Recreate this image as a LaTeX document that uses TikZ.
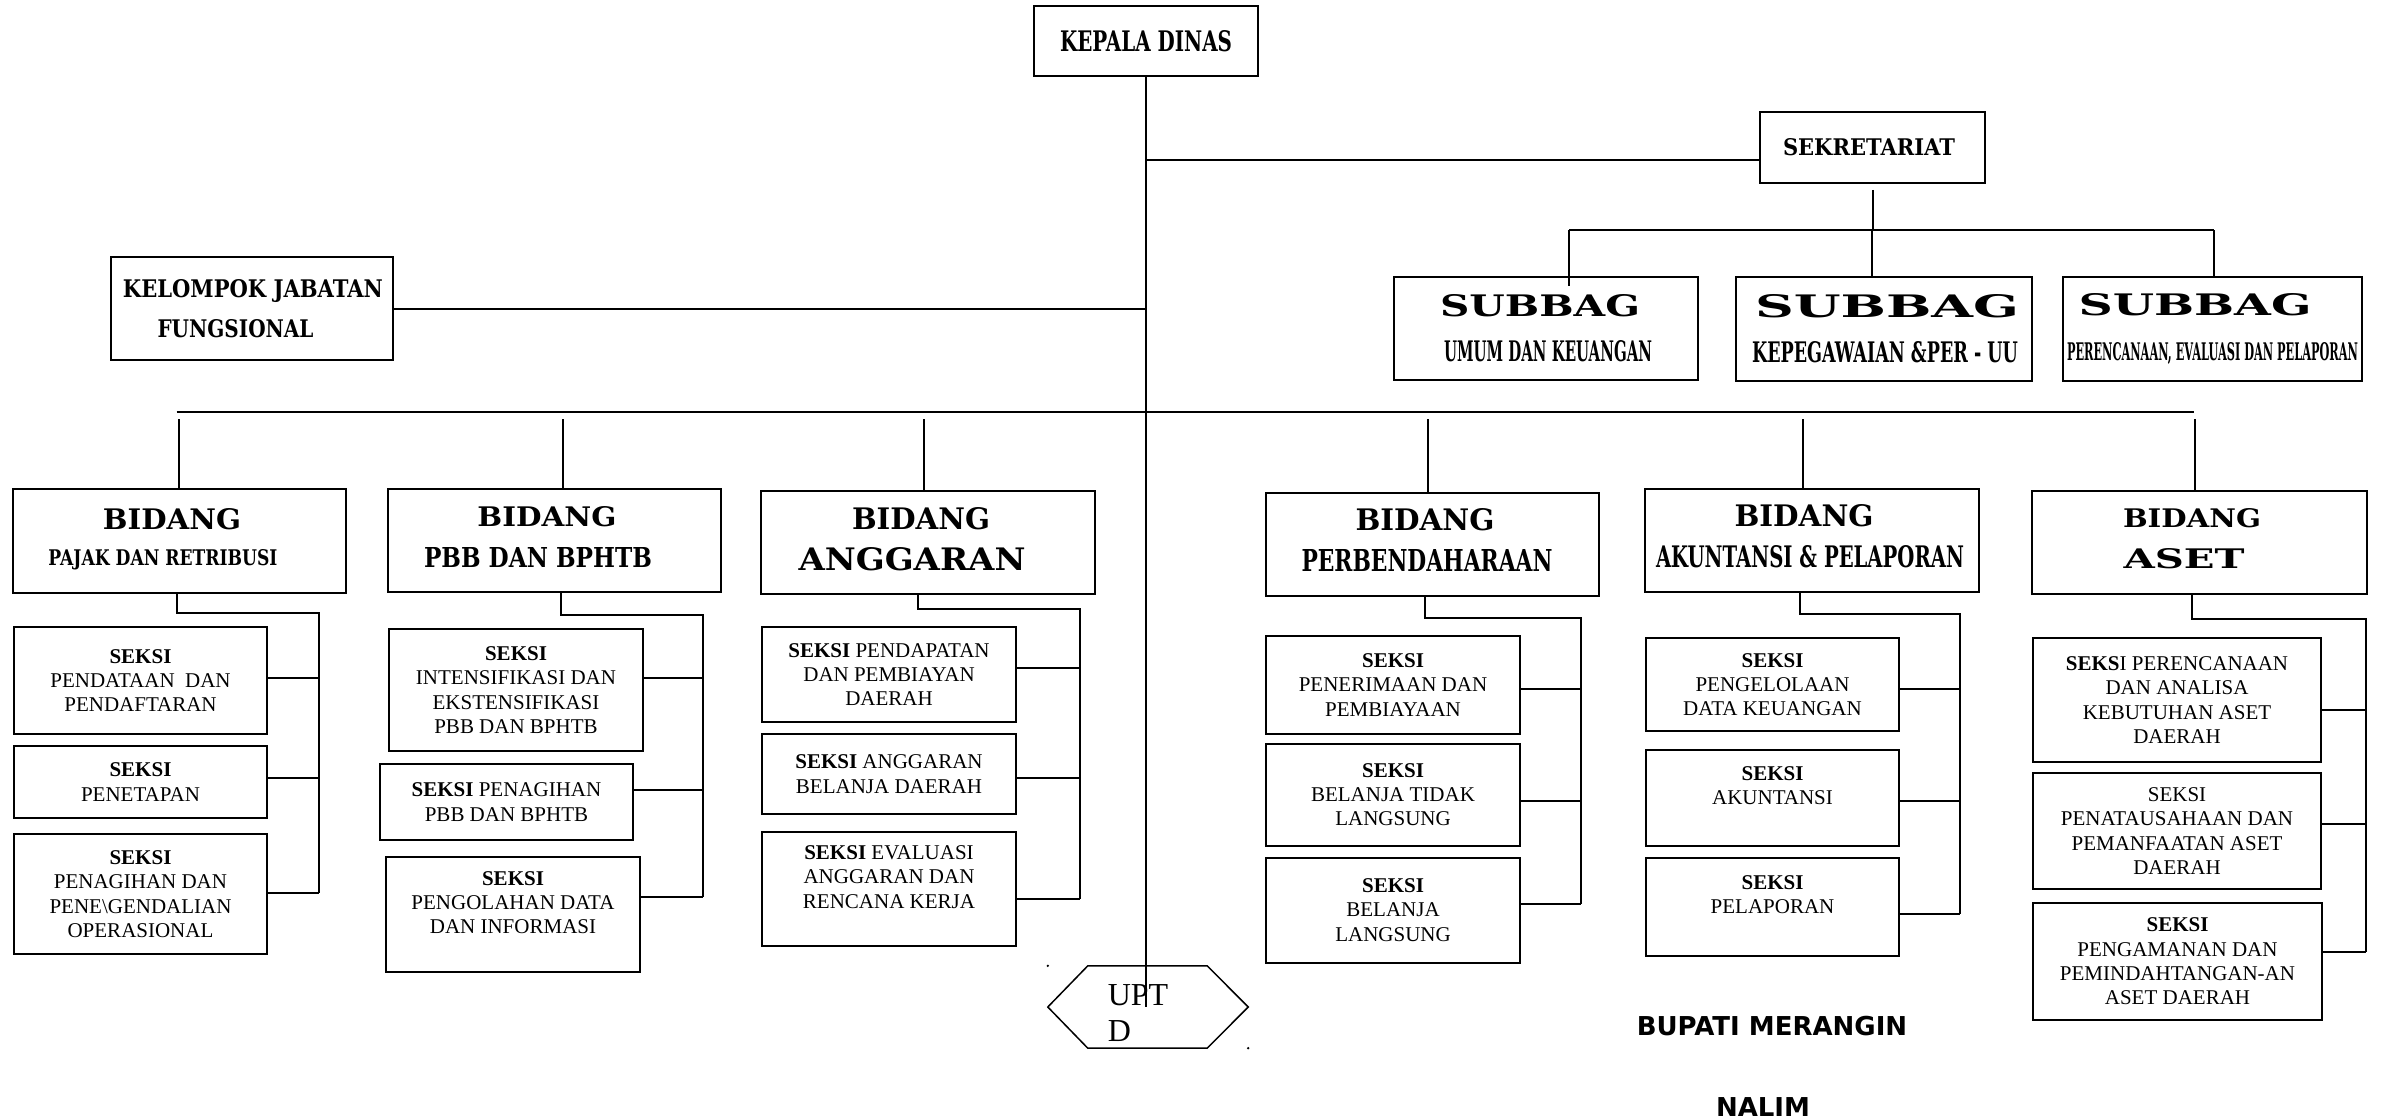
\documentclass[tikz,border=0pt]{standalone}
\usepackage{fontspec}
\setmainfont{Liberation Serif}
\newfontfamily\hdfont{DejaVu Serif}
\newfontfamily\signfont{DejaVu Sans}
\usepackage{graphicx}
\usepackage{tikz}
\usetikzlibrary{calc}
% heading line: shift, width, cap height, text
\newcommand{\hd}[4]{\makebox[#2pt]{\hspace{#1pt}\hspace{#1pt}\resizebox{#2pt}{#3pt}{#4}}}
\tikzset{
  unit/.style={draw=black, line width=2pt, inner sep=0pt, align=center},
  head/.style={unit, font=\hdfont\bfseries\fontsize{20}{40}\selectfont},
  bidang/.style={unit, font=\hdfont\bfseries\fontsize{20}{41}\selectfont, text depth=8pt},
  subbag/.style={unit, font=\hdfont\bfseries\fontsize{20}{45}\selectfont},
  seksi/.style={unit, font=\fontsize{21}{24.3}\selectfont},
  link/.style={line width=2pt},
  bus/.style={line width=2.5pt},
  hexa/.style={minimum width=200pt, minimum height=82pt, inner sep=0pt},
  upttext/.style={font=\fontsize{32}{36}\selectfont, align=left, inner sep=0pt},
  sign/.style={font=\signfont\bfseries\fontsize{26}{30}\selectfont, inner sep=0pt},
}

\begin{document}
\begin{tikzpicture}[x=1pt, y=-1pt]
\useasboundingbox[fill=white] (0,0) rectangle (2381,1118);

%% =====================================================================
%% Top: kepala dinas, sekretariat, jabatan fungsional
%% =====================================================================
\node[head, minimum width=224pt, minimum height=70pt] (kadis) at (1146,41) {\hd{0}{172}{21}{KEPALA DINAS}};
\node[head, minimum width=225pt, minimum height=71pt] (sekre) at (1872.5,147.5) {\hd{-3.5}{172}{17}{SEKRETARIAT}};
\node[head, minimum width=282pt, minimum height=103pt] (kjf) at (252,308.5) {\hd{1}{260}{18}{KELOMPOK JABATAN}\\\hd{-16.5}{156}{18}{FUNGSIONAL}};

\node[subbag, minimum width=304pt, minimum height=103pt] (sub1) at (1546,328.5) {\hd{-6}{200}{22}{SUBBAG}\\\hd{2}{208}{21}{UMUM DAN KEUANGAN}};
\node[subbag, minimum width=296pt, minimum height=104pt] (sub2) at (1884,329) {\hd{3}{264}{23}{SUBBAG}\\\hd{1}{266}{21}{KEPEGAWAIAN \&PER - UU}};
\node[subbag, minimum width=299pt, minimum height=104pt] (sub3) at (2212.5,329) {\hd{-17.5}{233}{22}{SUBBAG}\\\hd{0}{291}{18}{PERENCANAAN, EVALUASI DAN PELAPORAN}};

%% =====================================================================
%% Bidang row
%% =====================================================================
\node[bidang, minimum width=333pt, minimum height=104pt] (pjk) at (179.5,541) {\hd{-7.5}{138}{21}{BIDANG}\\[-4.5pt]\hd{-16.5}{229}{16}{PAJAK DAN RETRIBUSI}};
\node[bidang, minimum width=333pt, minimum height=103pt] (pbb) at (554.5,540.5) {\hd{-7.5}{139}{20}{BIDANG}\\\hd{-16.5}{228}{20}{PBB DAN BPHTB}};
\node[bidang, minimum width=334pt, minimum height=103pt] (ang) at (928,542.5) {\hd{-7}{138}{22}{BIDANG}\\\hd{-16}{227}{23}{ANGGARAN}};
\node[bidang, minimum width=333pt, minimum height=103pt] (bnd) at (1432.5,544) {\hd{-7.5}{139}{22}{BIDANG}\\\hd{-5.5}{251}{22}{PERBENDAHARAAN}};
\node[bidang, minimum width=334pt, minimum height=103pt] (akt) at (1812,540) {\hd{-8}{139}{22}{BIDANG}\\\hd{-2}{308}{22}{AKUNTANSI \& PELAPORAN}};
\node[bidang, minimum width=335pt, minimum height=103pt] (ast) at (2199.5,542.5) {\hd{-7.5}{138}{19}{BIDANG}\\\hd{-15.5}{121}{20}{ASET}};

%% =====================================================================
%% Seksi boxes
%% =====================================================================
\node[seksi, minimum width=253pt, minimum height=107pt] (pjk1) at (140.5,680.5) {\textbf{SEKSI}\\PENDATAAN~~DAN\\PENDAFTARAN};
\node[seksi, minimum width=253pt, minimum height=72pt] (pjk2) at (140.5,782) {\textbf{SEKSI}\\PENETAPAN};
\node[seksi, minimum width=253pt, minimum height=120pt] (pjk3) at (140.5,894) {\textbf{SEKSI}\\PENAGIHAN DAN\\PENE\textbackslash GENDALIAN\\OPERASIONAL};

\node[seksi, minimum width=254pt, minimum height=122pt] (pbb1) at (516,690) {\textbf{SEKSI}\\INTENSIFIKASI DAN\\EKSTENSIFIKASI\\PBB DAN BPHTB};
\node[seksi, minimum width=253pt, minimum height=76pt] (pbb2) at (506.5,802) {\textbf{SEKSI} PENAGIHAN\\PBB DAN BPHTB};
\node[seksi, minimum width=254pt, minimum height=115pt] (pbb3) at (513,914.5) {\textbf{SEKSI}\\PENGOLAHAN DATA\\DAN INFORMASI\\\mbox{}};

\node[seksi, minimum width=254pt, minimum height=95pt] (ang1) at (889,674.5) {\textbf{SEKSI} PENDAPATAN\\DAN PEMBIAYAN\\DAERAH};
\node[seksi, minimum width=254pt, minimum height=80pt] (ang2) at (889,774) {\textbf{SEKSI} ANGGARAN\\BELANJA DAERAH};
\node[seksi, minimum width=254pt, minimum height=114pt] (ang3) at (889,889) {\textbf{SEKSI} EVALUASI\\ANGGARAN DAN\\RENCANA KERJA\\\mbox{}};

\node[seksi, minimum width=254pt, minimum height=98pt] (bnd1) at (1393,685) {\textbf{SEKSI}\\PENERIMAAN DAN\\PEMBIAYAAN};
\node[seksi, minimum width=254pt, minimum height=102pt] (bnd2) at (1393,794.5) {\textbf{SEKSI}\\BELANJA TIDAK\\LANGSUNG};
\node[seksi, minimum width=254pt, minimum height=105pt] (bnd3) at (1393,910) {\textbf{SEKSI}\\BELANJA\\LANGSUNG};

\node[seksi, minimum width=253pt, minimum height=93pt] (akt1) at (1772.5,684.5) {\textbf{SEKSI}\\PENGELOLAAN\\DATA KEUANGAN};
\node[seksi, minimum width=253pt, minimum height=96pt] (akt2) at (1772.5,797.5) {\textbf{SEKSI}\\AKUNTANSI\\\mbox{}};
\node[seksi, minimum width=253pt, minimum height=98pt] (akt3) at (1772.5,906.5) {\textbf{SEKSI}\\PELAPORAN\\\mbox{}};

\node[seksi, minimum width=288pt, minimum height=124pt] (ast1) at (2177,700) {\textbf{SEKS}I PERENCANAAN\\DAN ANALISA\\KEBUTUHAN ASET\\DAERAH};
\node[seksi, minimum width=288pt, minimum height=116pt] (ast2) at (2177,831) {SEKSI\\PENATAUSAHAAN DAN\\PEMANFAATAN ASET\\DAERAH};
\node[seksi, minimum width=289pt, minimum height=117pt] (ast3) at (2177.5,961.5) {\textbf{SEKSI}\\PENGAMANAN DAN\\PEMINDAHTANGAN-AN\\ASET DAERAH};

%% UPTD and signature
\node[hexa] (upt) at (1148,1007) {};
\draw[line width=1.5pt] (upt.west) -- ([xshift=40pt]upt.north west) -- ([xshift=-41pt]upt.north east) -- (upt.east)
  -- ([xshift=-41pt]upt.south east) -- ([xshift=40pt]upt.south west) -- cycle;
\fill (upt.north west) circle (1.3pt);
\fill (upt.south east) circle (1.3pt);

\node[sign] (bupati) at (1772,1026.5) {BUPATI MERANGIN};
\node[sign, anchor=base] (nalim) at (1763,1116) {NALIM};

%% =====================================================================
%% Connectors
%% =====================================================================
\coordinate (ysek) at (0,160);
\coordinate (ysub) at (0,230);
\coordinate (ybus) at (0,412);
\coordinate (ydrop) at (0,419);

\draw[link] (kadis.south) -- (kadis.south |- upt.center);
\draw[link] (kadis.south |- ysek) -- (sekre.west |- ysek);
\draw[link] (kjf.east) -- (kjf.east -| kadis.south);

% sekretariat to subbag
\draw[link] (sekre.south) ++(0,6) -- (sekre.south |- ysub);
\draw[link] ([xshift=23pt]sub1.north |- ysub) -- ([xshift=1.5pt]sub3.north |- ysub);
\foreach \n/\dx/\dy in {sub1/23/-10, sub2/-12/0, sub3/1.5/0}
  \draw[link] ([xshift=\dx pt]\n.north |- ysub) -- ([xshift=\dx pt, yshift=\dy pt]\n.north);

% bus to bidang
\draw[bus] ([xshift=-3pt]pjk.north |- ybus) -- ([xshift=-6pt]ast.north |- ybus);
\foreach \b/\dx in {pjk/-0.5, pbb/8.5, ang/-4, bnd/-4.5, akt/-9, ast/-4.5}
  \draw[link] ([xshift=\dx pt]\b.north |- ydrop) -- ([xshift=\dx pt]\b.north);

% bidang to seksi rails
\foreach \b/\rx/\ry/\ey in {pjk/319/613/893, pbb/703/615/897, ang/1080/609/899,
                            bnd/1581/618/903.5, akt/1960/614/913.5, ast/2366/619/952} {
  \coordinate (rail-\b) at (\rx,\ry);
  \coordinate (end-\b) at (\rx,\ey);
}
\foreach \b/\dx in {pjk/-2.5, pbb/6.5, ang/-10, bnd/-7.5, akt/-12, ast/-7.5}
  \draw[link] ([xshift=\dx pt]\b.south) |- (rail-\b) -- (end-\b);

\foreach \s/\b/\dy in {pjk1/pjk/2.5, pjk2/pjk/4, pjk3/pjk/1,
                       pbb1/pbb/12, pbb2/pbb/12, pbb3/pbb/17.5,
                       ang1/ang/6.5, ang2/ang/-4, ang3/ang/-10,
                       bnd1/bnd/-3.5, bnd2/bnd/-6, bnd3/bnd/6.5,
                       akt1/akt/-4, akt2/akt/-3, akt3/akt/-7,
                       ast1/ast/-10, ast2/ast/7, ast3/ast/9.5}
  \draw[link] ([yshift=\dy pt]\s.east) -- ([yshift=\dy pt]\s.east -| rail-\b);

\node[upttext] (uptlbl) at (1138,1013.5) {UPT\\D};

\end{tikzpicture}
\end{document}
